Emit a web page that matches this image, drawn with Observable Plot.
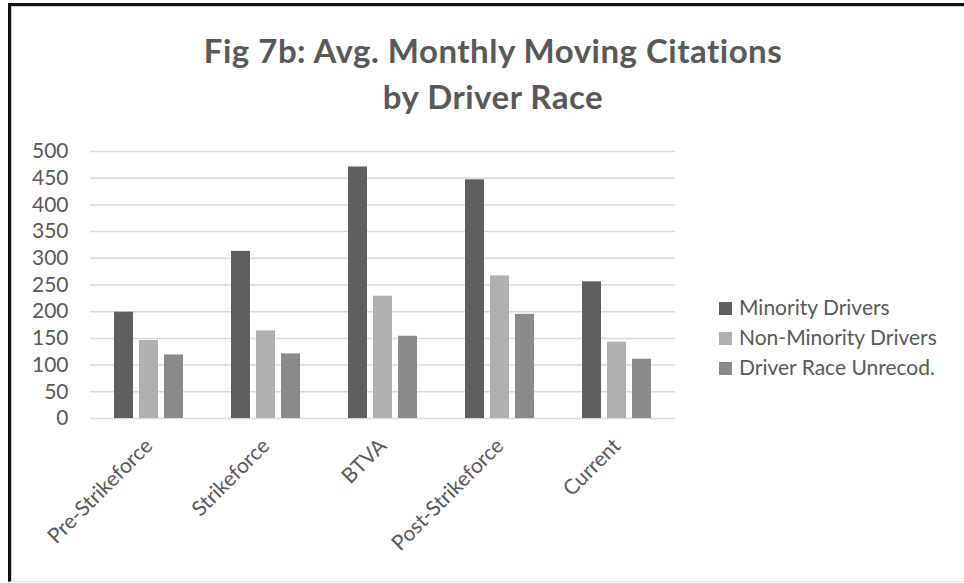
<!DOCTYPE html>
<html><head><meta charset="utf-8">
<script src="https://cdn.jsdelivr.net/npm/d3@7"></script>
<script src="https://cdn.jsdelivr.net/npm/@observablehq/plot@0.6"></script>
<style>
body{margin:0;background:#fff;}
#wrap{position:relative;width:964px;height:583px;overflow:hidden;font-family:Lato,"Open Sans",sans-serif;color:#595959;background:#fff;}
#title{position:relative;height:125px;}
#title div{position:absolute;left:0;width:986px;text-align:center;font-size:33px;font-weight:700;line-height:46px;letter-spacing:0.5px;white-space:nowrap;}
#chart svg{display:block;}
#legend{position:absolute;left:719px;top:292px;font-size:21px;line-height:30px;}
#legend .row{position:relative;padding-left:20px;white-space:nowrap;}
#legend .sw{position:absolute;left:0;top:10px;width:13px;height:13px;}
#frame{position:absolute;left:8px;top:3px;width:980px;height:575px;border-left:3px solid #111;border-top:3px solid #111;border-bottom:1px solid #ddd;box-shadow:inset 1px 1px 0 #d0d0d0;pointer-events:none;}
</style></head>
<body><div id="wrap">
<div id="title"><div style="top:27px">Fig 7b: Avg. Monthly Moving Citations</div><div style="top:73px">by Driver Race</div></div>
<div id="chart"></div>
<div id="legend"></div>
<div id="frame"></div>
</div>
<script>
const categories = ["Pre-Strikeforce", "Strikeforce", "BTVA", "Post-Strikeforce", "Current"];
const series = ["Minority Drivers", "Non-Minority Drivers", "Driver Race Unrecod."];
const minority = [199, 313, 471, 447, 256];
const nonMinority = [146, 164, 229, 267, 143];
const unrecod = [119, 121, 154, 195, 111];
const colors = ["#5f5f5f", "#b0b0b0", "#8a8a8a"];

const values = [minority, nonMinority, unrecod];
const data = categories.flatMap((c, i) => series.map((s, j) => ({category: c, series: s, value: values[j][i]})));

const chart = Plot.plot({
  width: 964, height: 458,
  marginTop: 26, marginBottom: 165, marginLeft: 88, marginRight: 287,
  style: {fontFamily: "Lato, 'Open Sans', sans-serif", fontSize: "21px", color: "#595959", background: "transparent"},
  fx: {domain: categories, padding: 0, label: null, tickSize: 0, tickPadding: 24, tickRotate: -45, axis: "bottom"},
  x: {domain: series, axis: null, paddingInner: 0.2308, paddingOuter: 0.8846},
  y: {domain: [0, 500], ticks: 10, tickSize: 0, tickPadding: 22, label: null},
  color: {domain: series, range: colors},
  marks: [
    Plot.gridY({ticks: 10, stroke: "#d9d9d9", strokeOpacity: 1, strokeWidth: 1.5}),
    Plot.barY(data, {fx: "category", x: "series", y: "value", fill: "series"})
  ]
});
document.getElementById("chart").appendChild(chart);

const legend = document.getElementById("legend");
series.forEach((s, j) => {
  const row = document.createElement("div");
  row.className = "row";
  const sw = document.createElement("span");
  sw.className = "sw";
  sw.style.background = colors[j];
  row.appendChild(sw);
  row.appendChild(document.createTextNode(s));
  legend.appendChild(row);
});
</script>
</body></html>
